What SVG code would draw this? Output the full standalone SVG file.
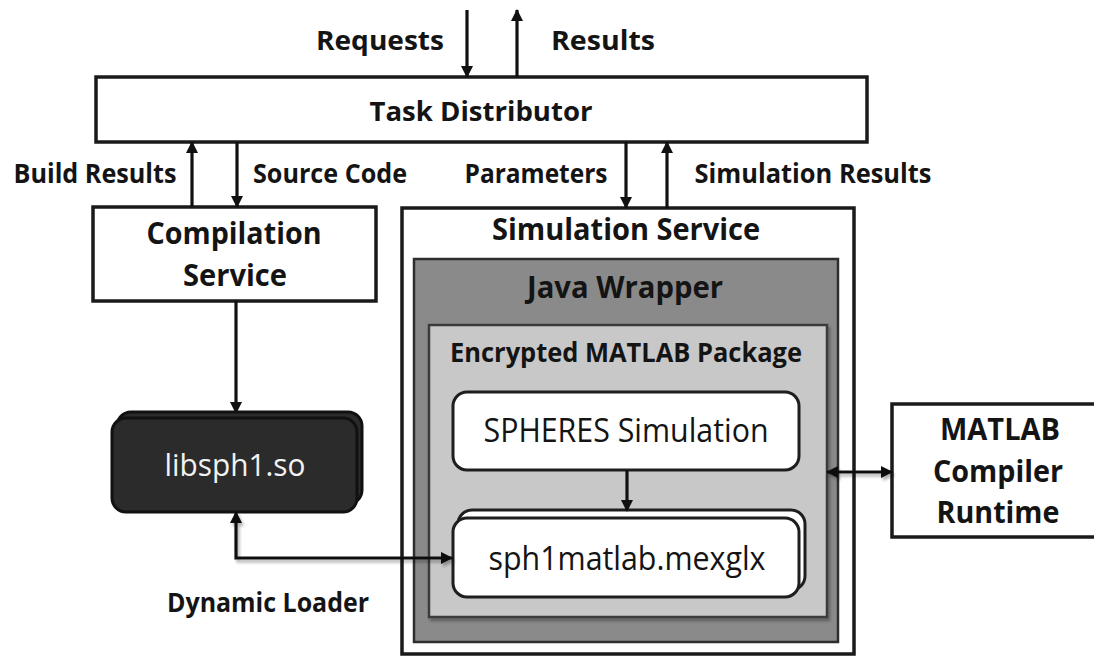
<svg xmlns="http://www.w3.org/2000/svg" width="1094" height="656" viewBox="0 0 1094 656">
  <style>
    .box { fill: #ffffff; stroke: #1a1a1a; stroke-width: 3.5; }
    .rbox { fill: #ffffff; stroke: #1e1e1e; stroke-width: 3; }
    .dark { fill: #2b2b2b; stroke: #111111; stroke-width: 3; }
    .lbl { font-family: "Open Sans", "Liberation Sans", sans-serif; font-weight: bold; fill: #141414; text-anchor: middle; }
    .reg { font-family: "Open Sans", "Liberation Sans", sans-serif; font-weight: normal; fill: #141414; text-anchor: middle; }
    .conn { fill: none; stroke: #111111; stroke-width: 3.2; }
  </style>
  <defs>
    <marker id="ah" viewBox="0 0 12 12" refX="11" refY="6" markerWidth="12" markerHeight="12" markerUnits="userSpaceOnUse" orient="auto-start-reverse">
      <path d="M0,0 L12,6 L0,12 z" fill="#111111"/>
    </marker>
    <filter id="sh" filterUnits="userSpaceOnUse" x="0" y="0" width="1094" height="656">
      <feDropShadow dx="2" dy="3" stdDeviation="1.5" flood-color="#000" flood-opacity="0.3"/>
    </filter>
  </defs>
  <rect width="1094" height="656" fill="#ffffff"/>

  <text class="lbl" x="380" y="50" font-size="26" textLength="128" lengthAdjust="spacingAndGlyphs">Requests</text>
  <text class="lbl" x="603" y="50" font-size="26" textLength="104" lengthAdjust="spacingAndGlyphs">Results</text>

  <g id="task-distributor">
    <rect class="box" x="96" y="77" width="771" height="65"/>
    <text class="lbl" x="481" y="121" font-size="26" textLength="223" lengthAdjust="spacingAndGlyphs">Task Distributor</text>
  </g>

  <text class="lbl" x="95" y="183" font-size="26" textLength="163" lengthAdjust="spacingAndGlyphs">Build Results</text>
  <text class="lbl" x="330" y="183" font-size="26" textLength="154" lengthAdjust="spacingAndGlyphs">Source Code</text>
  <text class="lbl" x="536" y="183" font-size="26" textLength="143" lengthAdjust="spacingAndGlyphs">Parameters</text>
  <text class="lbl" x="813" y="183" font-size="26" textLength="237" lengthAdjust="spacingAndGlyphs">Simulation Results</text>

  <g id="compilation-service">
    <rect class="box" x="93" y="207" width="283" height="94"/>
    <text class="lbl" x="234" y="244" font-size="31" textLength="175" lengthAdjust="spacingAndGlyphs">Compilation</text>
    <text class="lbl" x="235" y="286" font-size="31" textLength="104" lengthAdjust="spacingAndGlyphs">Service</text>
  </g>

  <g id="libsph1">
    <rect class="dark" x="117" y="412" width="245" height="92" rx="14"/>
    <rect class="dark" x="112" y="418" width="245" height="94" rx="14"/>
    <text class="reg" x="235" y="476" font-size="31" style="fill:#f2f2f2" textLength="141" lengthAdjust="spacingAndGlyphs">libsph1.so</text>
  </g>

  <text class="lbl" x="268" y="612" font-size="26" textLength="202" lengthAdjust="spacingAndGlyphs">Dynamic Loader</text>

  <g id="simulation-service">
    <rect class="box" x="402" y="208" width="452" height="446"/>
    <text class="lbl" x="626" y="240" font-size="31" textLength="268" lengthAdjust="spacingAndGlyphs">Simulation Service</text>
  </g>

  <g id="java-wrapper">
    <rect x="414" y="259" width="424" height="383" fill="#8a8a8a" stroke="#2e2e2e" stroke-width="2.5"/>
    <text class="lbl" x="625" y="298" font-size="31" textLength="196" lengthAdjust="spacingAndGlyphs">Java Wrapper</text>
  </g>

  <g id="encrypted-matlab-package">
    <rect x="429" y="325" width="398" height="292" fill="#c8c8c8" stroke="#3a3a3a" stroke-width="2.5" filter="url(#sh)"/>
    <text class="lbl" x="626" y="362" font-size="26" textLength="352" lengthAdjust="spacingAndGlyphs">Encrypted MATLAB Package</text>
  </g>

  <g id="spheres-simulation">
    <rect class="rbox" x="453" y="392" width="346" height="78" rx="14"/>
    <text class="reg" x="626" y="442" font-size="32" textLength="285" lengthAdjust="spacingAndGlyphs">SPHERES Simulation</text>
  </g>

  <g id="sph1matlab">
    <rect class="rbox" x="458" y="510" width="347" height="80" rx="14"/>
    <rect class="rbox" x="453" y="518" width="346" height="79" rx="14"/>
    <text class="reg" x="627" y="570" font-size="32" textLength="277" lengthAdjust="spacingAndGlyphs">sph1matlab.mexglx</text>
  </g>

  <g id="matlab-compiler-runtime">
    <rect class="box" x="892" y="404" width="210" height="133"/>
    <text class="lbl" x="1000" y="440" font-size="30" textLength="120" lengthAdjust="spacingAndGlyphs">MATLAB</text>
    <text class="lbl" x="998" y="482" font-size="30" textLength="130" lengthAdjust="spacingAndGlyphs">Compiler</text>
    <text class="lbl" x="998" y="523" font-size="30" textLength="123" lengthAdjust="spacingAndGlyphs">Runtime</text>
  </g>

  <g id="connectors">
    <line class="conn" x1="467" y1="10" x2="467" y2="77" marker-end="url(#ah)"/>
    <line class="conn" x1="517" y1="77" x2="517" y2="10" marker-end="url(#ah)"/>
    <line class="conn" x1="192" y1="207" x2="192" y2="142" marker-end="url(#ah)"/>
    <line class="conn" x1="237" y1="142" x2="237" y2="207" marker-end="url(#ah)"/>
    <line class="conn" x1="626" y1="142" x2="626" y2="208" marker-end="url(#ah)"/>
    <line class="conn" x1="667" y1="208" x2="667" y2="142" marker-end="url(#ah)"/>
    <line class="conn" x1="236" y1="301" x2="236" y2="413" marker-end="url(#ah)"/>
    <path class="conn" d="M236,512 V558 H452" marker-start="url(#ah)" marker-end="url(#ah)" filter="url(#sh)"/>
    <line class="conn" x1="627" y1="470" x2="627" y2="511" marker-end="url(#ah)"/>
    <line class="conn" x1="827" y1="472" x2="892" y2="472" marker-start="url(#ah)" marker-end="url(#ah)" filter="url(#sh)"/>
  </g>
</svg>
